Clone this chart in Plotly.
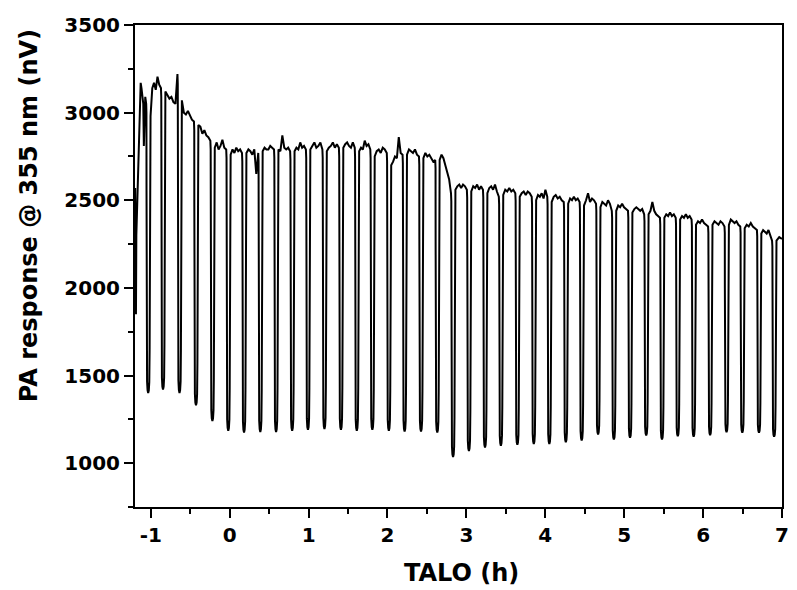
import plotly.graph_objects as go

# ---- data ----
# initial segment before the first dip (time in h, response in nV)
lead_time = [-1.198, -1.195, -1.192, -1.188, -1.183, -1.175, -1.165, -1.150, -1.135,
             -1.128, -1.118, -1.105, -1.095, -1.088, -1.080, -1.070, -1.058]
lead_val = [2570, 2250, 2560, 1850, 2300, 2450, 2650, 2900, 3120,
            3170, 3140, 3080, 3050, 2810, 3060, 3090, 3050]

# centre time of every light-off dip (h)
dip_time = [-1.033, -0.845, -0.636, -0.427, -0.219, -0.018, 0.182, 0.388, 0.588, 0.792,
            0.992, 1.201, 1.410, 1.611, 1.808, 2.017, 2.217, 2.425, 2.631, 2.831,
            3.032, 3.236, 3.437, 3.646, 3.854, 4.051, 4.260, 4.461, 4.669, 4.869,
            5.074, 5.279, 5.479, 5.679, 5.880, 6.089, 6.297, 6.497, 6.708, 6.900]

# minimum response in each dip (nV)
dip_min = [1400, 1420, 1400, 1330, 1240, 1185, 1175, 1178, 1178, 1185,
           1190, 1195, 1190, 1185, 1190, 1185, 1180, 1180, 1175, 1035,
           1070, 1090, 1100, 1105, 1110, 1110, 1120, 1130, 1164, 1135,
           1145, 1158, 1135, 1154, 1151, 1160, 1177, 1174, 1174, 1151]

# plateau response after each dip (nV), read left to right
plateau = [
    [2980, 3140, 3170, 3130, 3205, 3160, 3140],
    [3120, 3100, 3080, 3090, 3060, 3050, 3220],
    [3070, 3000, 2990, 3010, 2980, 2960, 2950],
    [2930, 2920, 2880, 2900, 2870, 2860, 2840],
    [2800, 2830, 2790, 2810, 2845, 2800, 2790],
    [2760, 2790, 2770, 2800, 2780, 2790, 2770],
    [2770, 2790, 2780, 2760, 2790, 2650, 2770],
    [2780, 2800, 2790, 2790, 2810, 2800, 2790],
    [2790, 2780, 2870, 2800, 2790, 2800, 2780],
    [2780, 2800, 2790, 2830, 2800, 2810, 2790],
    [2790, 2810, 2830, 2800, 2810, 2830, 2790],
    [2780, 2800, 2810, 2830, 2800, 2820, 2800],
    [2800, 2820, 2830, 2810, 2800, 2830, 2800],
    [2780, 2800, 2790, 2840, 2810, 2820, 2790],
    [2750, 2780, 2790, 2770, 2800, 2790, 2770],
    [2700, 2720, 2750, 2740, 2860, 2770, 2760],
    [2760, 2790, 2780, 2770, 2790, 2760, 2750],
    [2740, 2770, 2750, 2760, 2740, 2720, 2730],
    [2730, 2760, 2740, 2700, 2660, 2620, 2540],
    [2560, 2580, 2590, 2570, 2590, 2580, 2560],
    [2550, 2580, 2570, 2590, 2560, 2580, 2560],
    [2540, 2570, 2580, 2560, 2590, 2550, 2520],
    [2530, 2560, 2550, 2570, 2550, 2560, 2540],
    [2520, 2540, 2550, 2530, 2550, 2540, 2520],
    [2500, 2530, 2520, 2540, 2510, 2560, 2520],
    [2490, 2520, 2530, 2510, 2520, 2500, 2490],
    [2480, 2510, 2500, 2520, 2500, 2510, 2490],
    [2470, 2500, 2540, 2490, 2510, 2500, 2480],
    [2460, 2490, 2480, 2470, 2500, 2480, 2440],
    [2440, 2470, 2460, 2480, 2460, 2450, 2440],
    [2430, 2450, 2460, 2450, 2440, 2450, 2420],
    [2420, 2440, 2490, 2440, 2420, 2410, 2400],
    [2400, 2420, 2410, 2430, 2410, 2420, 2400],
    [2390, 2410, 2400, 2420, 2400, 2410, 2390],
    [2360, 2380, 2370, 2390, 2370, 2360, 2350],
    [2360, 2380, 2370, 2360, 2380, 2370, 2350],
    [2360, 2390, 2380, 2370, 2380, 2360, 2350],
    [2340, 2360, 2350, 2370, 2350, 2340, 2330],
    [2310, 2330, 2320, 2310, 2330, 2300, 2270],
    [2270, 2290, 2280],
]

x_tick_vals = [-1, 0, 1, 2, 3, 4, 5, 6, 7]
x_tick_text = ["-1", "0", "1", "2", "3", "4", "5", "6", "7"]
y_tick_vals = [1000, 1500, 2000, 2500, 3000, 3500]
y_tick_text = ["1000", "1500", "2000", "2500", "3000", "3500"]

# ---- build the trace from the read values ----
# dip profile: time offsets from the dip centre and fraction of the step height
off = [-0.022, -0.021, -0.020, -0.018, -0.014, -0.008, 0.0,
       0.008, 0.014, 0.018, 0.020, 0.021, 0.023]
frac = [0.97, 0.70, 0.40, 0.15, 0.04, 0.01, 0.0,
        0.01, 0.04, 0.15, 0.40, 0.70, 0.95]

xs, ys = list(lead_time), list(lead_val)
prev_end = lead_val[-1]
for k, (t, lo) in enumerate(zip(dip_time, dip_min)):
    nxt = plateau[k]
    for o, f in zip(off, frac):
        hi = prev_end if o < 0 else nxt[0]
        xs.append(t + o)
        ys.append(lo + f * (hi - lo))
    t_start = t + 0.030
    t_end = dip_time[k + 1] - 0.026 if k + 1 < len(dip_time) else 7.0
    n = len(nxt)
    for i, v in enumerate(nxt):
        xs.append(t_start + (t_end - t_start) * i / (n - 1))
        ys.append(v)
    prev_end = nxt[-1]

fig = go.Figure()
fig.add_trace(go.Scatter(x=xs, y=ys, mode="lines",
                         line=dict(color="black", width=2), hoverinfo="skip"))

tick_font = dict(family="DejaVu Sans", size=20, color="black", weight="bold")
title_font = dict(family="DejaVu Sans", size=24, color="black", weight="bold")

axis_common = dict(
    showline=True, linewidth=2, linecolor="black", mirror=True,
    showgrid=False, zeroline=False,
    ticks="outside", ticklen=9, tickwidth=2, tickcolor="black",
    tickfont=tick_font,
)
fig.update_xaxes(range=[-1.2, 7], tickvals=x_tick_vals, ticktext=x_tick_text,
                 minor=dict(ticks="outside", dtick=0.5, tick0=0, ticklen=5,
                            tickwidth=2, tickcolor="black"),
                 **axis_common)
fig.update_yaxes(range=[750, 3500], tickvals=y_tick_vals, ticktext=y_tick_text,
                 minor=dict(ticks="outside", dtick=250, tick0=0, ticklen=5,
                            tickwidth=2, tickcolor="black"),
                 **axis_common)

fig.update_layout(
    width=797, height=590,
    margin=dict(l=135, r=8, t=25, b=83),
    plot_bgcolor="white", paper_bgcolor="white",
    showlegend=False,
    annotations=[
        dict(text="PA response @ 355 nm (nV)", textangle=-90,
             xref="paper", yref="paper", x=-0.1636, y=0.6037,
             xanchor="center", yanchor="middle", showarrow=False, font=title_font),
        dict(text="TALO (h)", xref="paper", yref="paper", x=0.5046, y=-0.1370,
             xanchor="center", yanchor="middle", showarrow=False, font=title_font),
    ],
)

fig.write_html("out.html")
